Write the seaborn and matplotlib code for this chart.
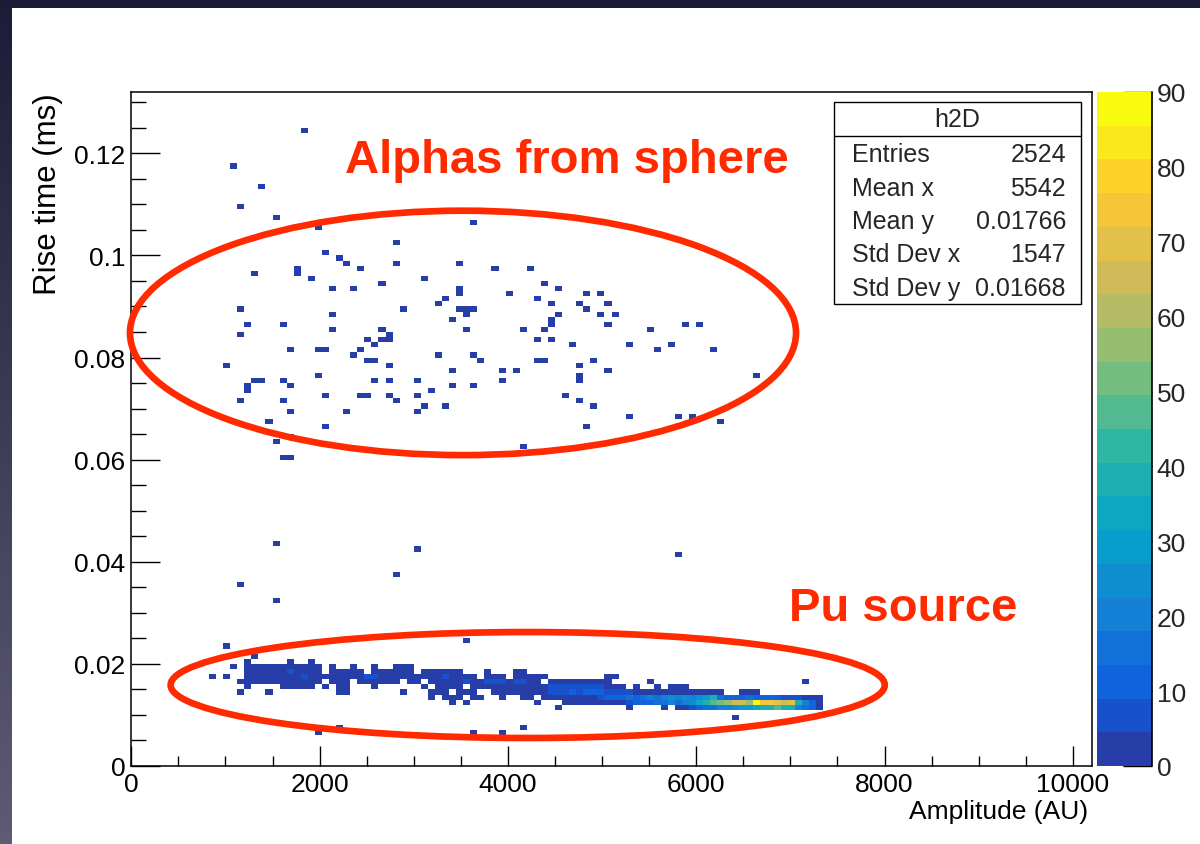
import numpy as np
import matplotlib
matplotlib.use("Agg")
import matplotlib.pyplot as plt
from matplotlib.colors import ListedColormap, Normalize, LinearSegmentedColormap
from matplotlib.patches import Ellipse, Rectangle
from matplotlib.ticker import FixedLocator, MultipleLocator, FuncFormatter
from matplotlib.cm import ScalarMappable
import seaborn as sns

sns.set_style("ticks")
plt.rcParams["font.family"] = ["Liberation Sans", "DejaVu Sans"]

# ---------------- data ----------------
# isolated single-entry cells: amplitude (AU) and rise time (ms)
scatter_amp = [
    1838, 1088, 1388, 1163, 1538, 1988, 3638, 2813, 2063, 2213, 2288, 2438, 2813, 3488, 3863, 4238,
    1313, 1763, 1763, 1913, 2138, 2363, 2663, 3113, 3488, 3488, 4013, 3338, 3263, 1163, 2138, 2888,
    3488, 3563, 3638, 3563, 3413, 1238, 1613, 2138, 2663, 3563, 4163, 1163, 2738, 2738, 2663, 2513,
    2588, 2438, 2363, 1688, 1988, 2063, 2513, 2588, 2738, 3263, 3638, 3713, 1013, 3413, 3938, 4088,
    1988, 1313, 1388, 1613, 1238, 1238, 1688, 2588, 2738, 3038, 3938, 3413, 3638, 3188, 1163, 1613,
    2063, 2438, 2513, 2738, 2813, 3038, 3113, 3038, 3338, 1688, 2288, 1463, 2063, 1688, 1538, 1613,
    1688, 4163, 4388, 4538, 4313, 4463, 4838, 4988, 4763, 4838, 5063, 4538, 4988, 5138, 4463, 4463,
    4388, 5063, 5513, 5888, 6038, 4313, 4463, 4688, 5288, 5588, 5738, 6188, 4313, 4388, 4763, 4913,
    5063, 4763, 4763, 6638, 4613, 4763, 4913, 5288, 5813, 5963, 6263, 4838,
    1538, 3038, 5813, 2813, 1163, 1538, 1013, 3563,
    1988, 2213, 2438, 3638, 3938, 4163, 6413,
]
scatter_rise = [
    0.1245, 0.1175, 0.1135, 0.1095, 0.1075, 0.1055, 0.1065, 0.1025, 0.1005, 0.0995, 0.0985, 0.0975, 0.0985, 0.0985, 0.0975, 0.0975,
    0.0965, 0.0975, 0.0965, 0.0955, 0.0935, 0.0935, 0.0945, 0.0955, 0.0935, 0.0925, 0.0925, 0.0915, 0.0905, 0.0895, 0.0885, 0.0895,
    0.0895, 0.0895, 0.0895, 0.0885, 0.0875, 0.0865, 0.0865, 0.0855, 0.0855, 0.0855, 0.0855, 0.0845, 0.0845, 0.0835, 0.0835, 0.0835,
    0.0825, 0.0815, 0.0805, 0.0815, 0.0815, 0.0815, 0.0795, 0.0795, 0.0785, 0.0805, 0.0805, 0.0795, 0.0785, 0.0775, 0.0775, 0.0775,
    0.0765, 0.0755, 0.0755, 0.0755, 0.0745, 0.0735, 0.0745, 0.0755, 0.0755, 0.0755, 0.0755, 0.0745, 0.0745, 0.0735, 0.0715, 0.0715,
    0.0725, 0.0725, 0.0725, 0.0725, 0.0715, 0.0725, 0.0705, 0.0695, 0.0705, 0.0695, 0.0695, 0.0675, 0.0665, 0.0645, 0.0635, 0.0605,
    0.0605, 0.0625, 0.0945, 0.0935, 0.0915, 0.0905, 0.0925, 0.0925, 0.0905, 0.0895, 0.0905, 0.0885, 0.0885, 0.0885, 0.0875, 0.0865,
    0.0855, 0.0865, 0.0855, 0.0865, 0.0865, 0.0835, 0.0835, 0.0825, 0.0825, 0.0815, 0.0825, 0.0815, 0.0795, 0.0795, 0.0785, 0.0795,
    0.0775, 0.0765, 0.0755, 0.0765, 0.0725, 0.0715, 0.0705, 0.0685, 0.0685, 0.0685, 0.0675, 0.0665,
    0.0435, 0.0425, 0.0415, 0.0375, 0.0355, 0.0325, 0.0235, 0.0245,
    0.0065, 0.0075, 0.0065, 0.0065, 0.0065, 0.0075, 0.0095,
]

# dense "Pu source" band: one string per rise-time row, one character per
# amplitude cell (75 AU wide, first cell centred at 788 AU)
band_rise = [0.0215, 0.0205, 0.0195, 0.0185, 0.0175, 0.0165, 0.0155, 0.0145, 0.0135, 0.0125, 0.0115]
band_amp_first = 788
band_amp_step = 75
D10 = ".........."
D9 = "........."
band_rows = [
    [".......1..", D10, D10, D10, D10, D10, D10, D10, D9],
    ["......1...", "..1..1....", D10, D10, D10, D10, D10, D10, D9],
    ["....1.1112", "1111211.1.", ".1..1..111", D10, D10, D10, D10, D10, D9],
    ["......2121", "1261212.11", "211.121121", ".112111...", "1...11....", D10, D10, D10, D9],
    [".1.1..2321", "2323621121", "2216521221", "121262112.", "211.12111.", ".......11.", D10, D10, D9],
    [".....11212", "1212121.12", "1.121121.1", "1.12212632", "76526621.1", "22123212..", "...1......", D10, ".....1..."],
    ["......1...", ".12112.1.1", "1...1.....", ".1.1212.21", "2134234345", "6768765321", ".1..1.232.", D10, D9],
    [".....1...1", ".........1", "1.......1.", "..121.212.", ".232343445", "78989A9876", "5434343322", "2121..211.", D9],
    [D10, D10, D10, "..1.121.11", "..1..12.23", "23434489AA", "BABCBCDCDC", "DEGBA9ABA9", "A9876321."],
    [D10, D10, D10, ".....1.1..", ".......1..", ".121232343", "89AABBCBCD", "FGHIJLLJQN", "NMLMGCA3."],
    [D10, D10, D10, D10, D10, "1.........", "1....1.235", "ABBCCDEEFG", "GHGGCBA2."],
]
count_code = {".": 0, "1": 1, "2": 2, "3": 3, "4": 4, "5": 5, "6": 6, "7": 7, "8": 8, "9": 9,
              "A": 12, "B": 16, "C": 20, "D": 25, "E": 30, "F": 35, "G": 40, "H": 45, "I": 50,
              "J": 55, "K": 60, "L": 65, "M": 70, "N": 75, "O": 80, "P": 85, "Q": 90}

# histogram binning / axis ranges
amp_range = (0, 10200)
amp_nbins = 136
rise_range = (0, 0.132)
rise_nbins = 132
z_max = 90
n_levels = 20

x_major_ticks = [0, 2000, 4000, 6000, 8000, 10000]
y_major_ticks = [0, 0.02, 0.04, 0.06, 0.08, 0.10, 0.12]
cbar_ticks = [0, 10, 20, 30, 40, 50, 60, 70, 80, 90]

stat_names = ["Entries", "Mean x", "Mean y", "Std Dev x", "Std Dev y"]
stat_values = ["2524", "5542", "0.01766", "1547", "0.01668"]

# annotations (data coordinates)
alpha_ellipse = (3523, 0.08482, 7074, 0.04787)
pu_ellipse = (4210, 0.01586, 7585, 0.02075)
alpha_text = (4630, 0.1163, "Alphas from sphere")
pu_text = (8199, 0.02858, "Pu source")

# ---------------- assemble entries ----------------
amp = list(scatter_amp)
rise = list(scatter_rise)
wts = [1.0] * len(amp)
for r, chunks in zip(band_rise, band_rows):
    row = "".join(chunks)
    for k, ch in enumerate(row):
        c = count_code[ch]
        if c > 0:
            amp.append(band_amp_first + band_amp_step * k)
            rise.append(r)
            wts.append(float(c))

# ROOT kBird palette, 20 contour levels
stops = [0.0, 0.125, 0.25, 0.375, 0.5, 0.625, 0.75, 0.875, 1.0]
red = [0.2082, 0.0592, 0.0780, 0.0232, 0.1802, 0.5301, 0.8186, 0.9956, 0.9764]
green = [0.1664, 0.3599, 0.5041, 0.6419, 0.7178, 0.7492, 0.7328, 0.7862, 0.9832]
blue = [0.5293, 0.8684, 0.8385, 0.7914, 0.6425, 0.4662, 0.3499, 0.1968, 0.0539]
cols = []
for k in range(n_levels):
    idx = int((k + 0.99) * 255 / n_levels)
    p = min(idx / 254.0, 1.0)
    cols.append((np.interp(p, stops, red), np.interp(p, stops, green), np.interp(p, stops, blue)))
cmap = ListedColormap(cols)
norm = Normalize(0, z_max)

# ---------------- figure ----------------
W, H = 1200, 845
fig = plt.figure(figsize=(12, 8.45), dpi=100)

bg = fig.add_axes([0, 0, 1, 1], zorder=-10)
grad = np.linspace(0, 1, 256).reshape(-1, 1)
bg.imshow(grad, aspect="auto", extent=[0, 1, 0, 1],
          cmap=LinearSegmentedColormap.from_list("bg", ["#1c1c38", "#5e5c74"]))
bg.add_patch(Rectangle((12 / W, 0), 1 - 12 / W, 1 - 9 / H, facecolor="white",
                       edgecolor="none", transform=bg.transAxes))
bg.set_xlim(0, 1)
bg.set_ylim(0, 1)
bg.axis("off")

ax_l, ax_r, ax_t, ax_b = 131.3, 1091.7, 93, 767
ax = fig.add_axes([ax_l / W, 1 - ax_b / H, (ax_r - ax_l) / W, (ax_b - ax_t) / H])
ax.set_facecolor("white")

amp_edges = np.linspace(amp_range[0], amp_range[1], amp_nbins + 1)
rise_edges = np.linspace(rise_range[0], rise_range[1], rise_nbins + 1)
sns.histplot(x=np.array(amp, float), y=np.array(rise, float), weights=np.array(wts),
             bins=[amp_edges, rise_edges], cmap=cmap, cbar=False, thresh=0, ax=ax)
for coll in ax.collections:
    coll.set_cmap(cmap)
    coll.set_norm(norm)

ax.set_xlim(*amp_range)
ax.set_ylim(*rise_range)
ax.xaxis.set_major_locator(FixedLocator(x_major_ticks))
ax.xaxis.set_minor_locator(MultipleLocator(500))
ax.yaxis.set_major_locator(FixedLocator(y_major_ticks))
ax.yaxis.set_minor_locator(MultipleLocator(0.005))
ax.xaxis.set_major_formatter(FuncFormatter(lambda v, p: "%g" % v))
ax.yaxis.set_major_formatter(FuncFormatter(lambda v, p: "%g" % round(v, 4)))
ax.tick_params(axis="both", which="both", direction="in", top=False, right=False,
               width=1.0, color="black", labelsize=19, labelcolor="black")
ax.tick_params(axis="x", which="major", length=14.4, pad=4)
ax.tick_params(axis="x", which="minor", length=7.2)
ax.tick_params(axis="y", which="major", length=21, pad=4.3)
ax.tick_params(axis="y", which="minor", length=10.8)
for s in ax.spines.values():
    s.set_visible(True)
    s.set_color("black")
    s.set_linewidth(1.1)
ax.grid(False)

ax.set_xlabel("Amplitude (AU)", fontsize=19, loc="right", color="black")
ax.xaxis.label.set_va("center")
ax.xaxis.set_label_coords((1088 - ax_l) / (ax_r - ax_l), -(812 - ax_b) / (ax_b - ax_t))
ax.set_ylabel("Rise time (ms)", fontsize=22.5, loc="top", color="black")
ax.yaxis.label.set_va("center")
ax.yaxis.set_label_coords(-(ax_l - 48) / (ax_r - ax_l), 1.0)

red_c = "#ff2a00"
for (xc, yc, w, h) in (alpha_ellipse, pu_ellipse):
    ax.add_patch(Ellipse((xc, yc), w, h, fill=False, edgecolor=red_c, linewidth=4.8,
                         clip_on=False, zorder=6))
for (tx, ty, s) in (alpha_text, pu_text):
    ax.text(tx, ty, s, color=red_c, fontsize=34, fontweight="bold", ha="center",
            va="baseline", zorder=7)

# colour bar
cax = fig.add_axes([1097.3 / W, 1 - ax_b / H, 54.4 / W, (ax_b - ax_t) / H])
cb = fig.colorbar(ScalarMappable(norm=norm, cmap=cmap), cax=cax, ticks=cbar_ticks)
cb.outline.set_visible(False)
cb.minorticks_off()
cax.tick_params(direction="in", length=21, width=1.0, color="black", labelsize=19,
                pad=3.6, right=True, left=False)
cax.plot([1, 1], [0, 1], transform=cax.transAxes, color="black", lw=1.2, clip_on=False)

# stats box
def fx(px):
    return px / W

def fy(py):
    return 1 - py / H

bx0, bx1, by0, by1 = 834, 1081, 103, 305
fig.patches.append(Rectangle((fx(bx0), fy(by1)), (bx1 - bx0) / W, (by1 - by0) / H,
                             facecolor="white", edgecolor="black", linewidth=1.0,
                             transform=fig.transFigure, zorder=8))
fig.lines.append(plt.Line2D([fx(bx0), fx(bx1)], [fy(137), fy(137)], color="black",
                            linewidth=1.0, transform=fig.transFigure, zorder=9))
fig.text(fx(957), fy(120), "h2D", fontsize=18, ha="center", va="center", zorder=10)
row_y = [155, 188.5, 222, 255.5, 289]
for name, val, yy in zip(stat_names, stat_values, row_y):
    fig.text(fx(852), fy(yy), name, fontsize=18, ha="left", va="center", zorder=10)
    fig.text(fx(1066), fy(yy), val, fontsize=18, ha="right", va="center", zorder=10)

fig.savefig("out.png", dpi=100)
